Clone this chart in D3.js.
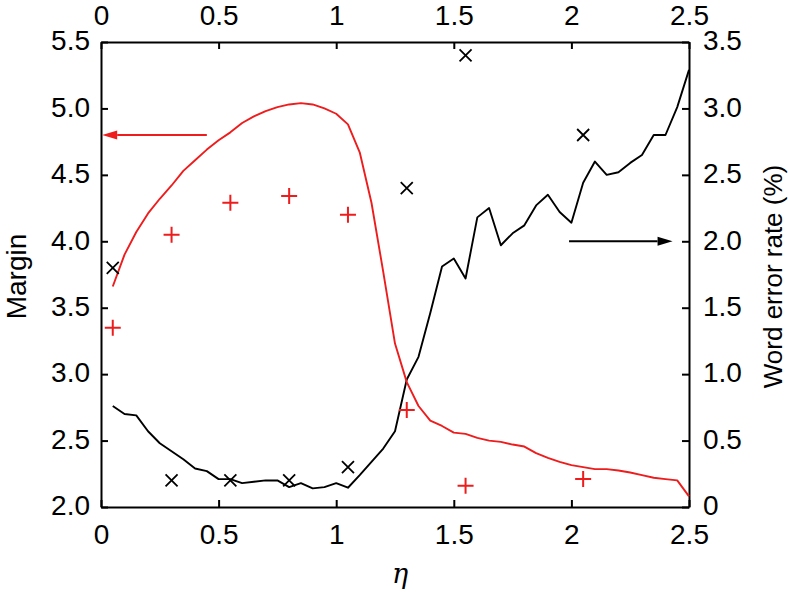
<!DOCTYPE html>
<html>
<head>
<meta charset="utf-8">
<script src="https://cdn.jsdelivr.net/npm/d3@7"></script>
<style>
  body { margin: 0; background: #fff; }
  svg text { font-family: "Liberation Sans", Arial, Helvetica, sans-serif; fill: #000; }
</style>
</head>
<body>
<div id="chart"></div>
<script>
// eta grid of the two curves
const eta = [0.05, 0.10, 0.15, 0.20, 0.25, 0.30, 0.35, 0.40, 0.45, 0.50,
             0.55, 0.60, 0.65, 0.70, 0.75, 0.80, 0.85, 0.90, 0.95, 1.00,
             1.05, 1.10, 1.15, 1.20, 1.25, 1.30, 1.35, 1.40, 1.45, 1.50,
             1.55, 1.60, 1.65, 1.70, 1.75, 1.80, 1.85, 1.90, 1.95, 2.00,
             2.05, 2.10, 2.15, 2.20, 2.25, 2.30, 2.35, 2.40, 2.45, 2.50];
// margin curve (left axis, red)
const marginCurve = [3.66, 3.90, 4.07, 4.21, 4.32, 4.42, 4.53, 4.61, 4.69, 4.76,
                     4.82, 4.89, 4.94, 4.98, 5.01, 5.03, 5.04, 5.03, 5.00, 4.96,
                     4.88, 4.67, 4.29, 3.77, 3.23, 2.94, 2.76, 2.65, 2.61, 2.56,
                     2.55, 2.52, 2.50, 2.49, 2.47, 2.455, 2.405, 2.37, 2.34, 2.315,
                     2.30, 2.285, 2.285, 2.275, 2.26, 2.24, 2.22, 2.21, 2.20, 2.08];
// word error rate curve (right axis, black)
const werCurve = [0.76, 0.70, 0.69, 0.57, 0.48, 0.42, 0.36, 0.29, 0.27, 0.21,
                  0.21, 0.18, 0.19, 0.20, 0.20, 0.15, 0.18, 0.14, 0.15, 0.18,
                  0.145, 0.24, 0.34, 0.44, 0.57, 0.96, 1.13, 1.46, 1.81, 1.87,
                  1.72, 2.18, 2.25, 1.97, 2.06, 2.12, 2.27, 2.35, 2.22, 2.14,
                  2.44, 2.60, 2.50, 2.52, 2.59, 2.65, 2.80, 2.80, 3.01, 3.29];
// sampled points
const etaSamples = [0.05, 0.30, 0.55, 0.80, 1.05, 1.30, 1.55, 2.05];
const marginSamples = [3.35, 4.05, 4.29, 4.34, 4.20, 2.73, 2.16, 2.21];
const werSamples = [1.80, 0.20, 0.20, 0.20, 0.30, 2.40, 3.40, 2.80];

const xTicks = [0, 0.5, 1, 1.5, 2, 2.5];
const xTickLabels = ["0", "0.5", "1", "1.5", "2", "2.5"];
const leftTicks = [2.0, 2.5, 3.0, 3.5, 4.0, 4.5, 5.0, 5.5];
const leftTickLabels = ["2.0", "2.5", "3.0", "3.5", "4.0", "4.5", "5.0", "5.5"];
const rightTicks = [0, 0.5, 1.0, 1.5, 2.0, 2.5, 3.0, 3.5];
const rightTickLabels = ["0", "0.5", "1.0", "1.5", "2.0", "2.5", "3.0", "3.5"];

// arrows: [eta start, eta end, value]
const marginArrow = [0.45, 0.005, 4.8];
const werArrow = [1.99, 2.43, 2.0];

const RED = "#ee1c1c";

const width = 788, height = 594;
const margin = {top: 42, right: 99, bottom: 87, left: 101};
const w = width - margin.left - margin.right;
const h = height - margin.top - margin.bottom;

const svg = d3.select("#chart").append("svg")
    .attr("width", width)
    .attr("height", height);

const g = svg.append("g")
    .attr("transform", "translate(" + margin.left + "," + margin.top + ")");

const x = d3.scaleLinear().domain([0, 2.5]).range([0, w]);
const yL = d3.scaleLinear().domain([2.0, 5.5]).range([h, 0]);
const yR = d3.scaleLinear().domain([0, 3.5]).range([h, 0]);

const fs = 28;

function styleAxis(sel) {
    sel.select(".domain").attr("stroke", "#000").attr("stroke-width", 2);
    sel.selectAll(".tick line").attr("stroke", "#000").attr("stroke-width", 2);
    sel.selectAll(".tick text").style("font-size", fs + "px");
}

g.append("g")
    .attr("transform", "translate(0," + h + ")")
    .call(d3.axisBottom(x).tickValues(xTicks).tickFormat((d, i) => xTickLabels[i])
        .tickSizeInner(-7).tickSizeOuter(0).tickPadding(17))
    .call(styleAxis);

g.append("g")
    .call(d3.axisTop(x).tickValues(xTicks).tickFormat((d, i) => xTickLabels[i])
        .tickSizeInner(-7).tickSizeOuter(0).tickPadding(17))
    .call(styleAxis);

g.append("g")
    .call(d3.axisLeft(yL).tickValues(leftTicks).tickFormat((d, i) => leftTickLabels[i])
        .tickSizeInner(-7).tickSizeOuter(0).tickPadding(11))
    .call(styleAxis)
    .selectAll(".tick text").attr("dy", "0.28em");

g.append("g")
    .attr("transform", "translate(" + w + ",0)")
    .call(d3.axisRight(yR).tickValues(rightTicks).tickFormat((d, i) => rightTickLabels[i])
        .tickSizeInner(-7).tickSizeOuter(0).tickPadding(14))
    .call(styleAxis)
    .selectAll(".tick text").attr("dy", "0.28em");

// curves
const marginLine = d3.line()
    .x((d, i) => x(eta[i]))
    .y(d => yL(d));
const werLine = d3.line()
    .x((d, i) => x(eta[i]))
    .y(d => yR(d));

g.append("path")
    .datum(werCurve)
    .attr("d", werLine)
    .attr("fill", "none")
    .attr("stroke", "#000")
    .attr("stroke-width", 1.9)
    .attr("stroke-linejoin", "round");

g.append("path")
    .datum(marginCurve)
    .attr("d", marginLine)
    .attr("fill", "none")
    .attr("stroke", RED)
    .attr("stroke-width", 1.9)
    .attr("stroke-linejoin", "round");

// markers
const plus = 8, cross = 6;
g.append("g").selectAll("path")
    .data(etaSamples)
    .enter()
    .append("path")
    .attr("d", (d, i) => {
        const cx = x(d), cy = yL(marginSamples[i]);
        return "M" + (cx - plus) + "," + cy + "H" + (cx + plus) +
               "M" + cx + "," + (cy - plus) + "V" + (cy + plus);
    })
    .attr("stroke", RED)
    .attr("stroke-width", 2)
    .attr("fill", "none");

g.append("g").selectAll("path")
    .data(etaSamples)
    .enter()
    .append("path")
    .attr("d", (d, i) => {
        const cx = x(d), cy = yR(werSamples[i]);
        return "M" + (cx - cross) + "," + (cy - cross) + "L" + (cx + cross) + "," + (cy + cross) +
               "M" + (cx - cross) + "," + (cy + cross) + "L" + (cx + cross) + "," + (cy - cross);
    })
    .attr("stroke", "#000")
    .attr("stroke-width", 1.8)
    .attr("fill", "none");

// arrows
function arrow(x0, x1, yy, color) {
    const dir = x1 > x0 ? 1 : -1;
    const headLen = 15, headHalf = 4.5;
    const base = x1 - dir * headLen;
    g.append("line")
        .attr("x1", x0).attr("x2", base)
        .attr("y1", yy).attr("y2", yy)
        .attr("stroke", color)
        .attr("stroke-width", 2);
    g.append("path")
        .attr("d", "M" + x1 + "," + yy + "L" + base + "," + (yy - headHalf) +
                   "L" + base + "," + (yy + headHalf) + "Z")
        .attr("fill", color);
}
arrow(x(marginArrow[0]), x(marginArrow[1]), yL(marginArrow[2]), RED);
arrow(x(werArrow[0]), x(werArrow[1]), yR(werArrow[2]), "#000");

// axis titles
svg.append("text")
    .attr("transform", "translate(26," + (margin.top + h / 2 + 2) + ") rotate(-90)")
    .attr("text-anchor", "middle")
    .style("font-size", "28px")
    .text("Margin");

svg.append("text")
    .attr("transform", "translate(782," + (margin.top + h / 2 + 2) + ") rotate(-90)")
    .attr("text-anchor", "middle")
    .style("font-size", "26px")
    .text("Word error rate (%)");

svg.append("text")
    .attr("x", margin.left + w / 2 + 5)
    .attr("y", 583)
    .attr("text-anchor", "middle")
    .style("font-size", "27px")
    .style("font-style", "italic")
    .style("font-family", "'DejaVu Serif', 'Liberation Serif', serif")
    .text("η");
</script>
</body>
</html>
